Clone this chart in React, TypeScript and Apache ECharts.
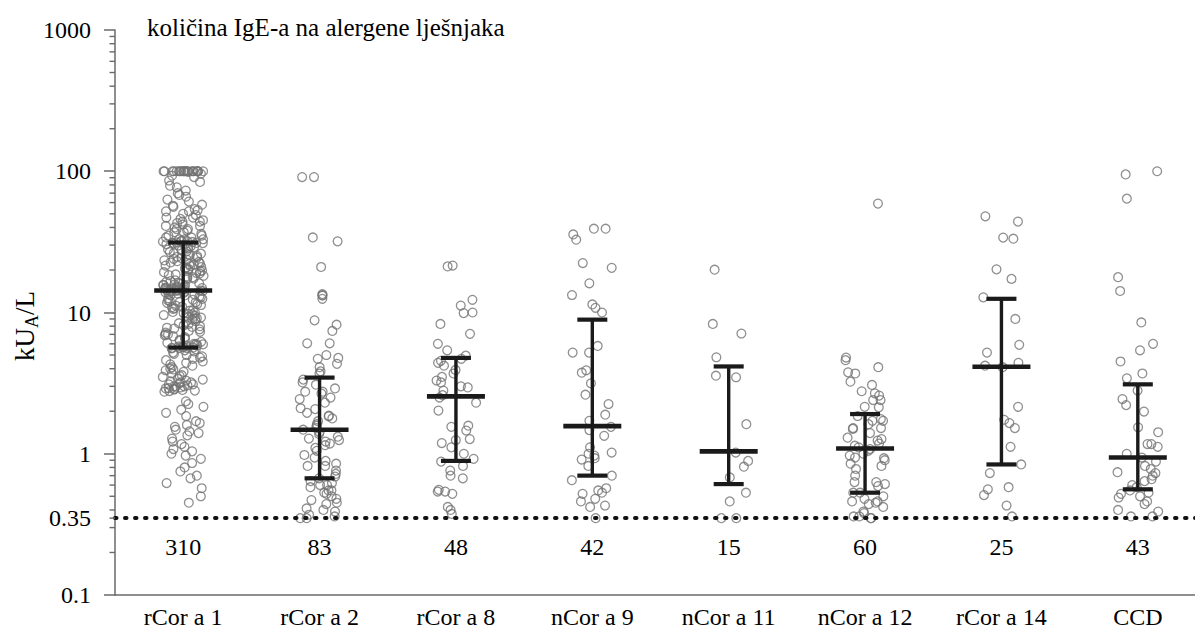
import React, { useEffect, useRef } from "react";
import * as echarts from "echarts";

// ---------- data ----------
const categories = ["rCor a 1", "rCor a 2", "rCor a 8", "nCor a 9", "nCor a 11", "nCor a 12", "rCor a 14", "CCD"];
const counts = [310, 83, 48, 42, 15, 60, 25, 43];
const medians = [14.3, 1.48, 2.55, 1.57, 1.04, 1.09, 4.13, 0.94];
const lowerQuartiles = [5.65, 0.67, 0.89, 0.7, 0.61, 0.53, 0.84, 0.56];
const upperQuartiles = [31.3, 3.46, 4.77, 8.9, 4.15, 1.91, 12.5, 3.1];
const cutoffValue = 0.35;
const extraTickLabels = ["0.35"];
const minorTickValues = [
  0.2, 0.3, 0.35, 0.4, 0.5, 0.6, 0.7, 0.8, 0.9,
  2, 3, 4, 5, 6, 7, 8, 9,
  20, 30, 40, 50, 60, 70, 80, 90,
  200, 300, 400, 500, 600, 700, 800, 900,
];

const rCorA1 = [
  100, 100, 100, 100, 100, 100, 100, 100, 100, 100, 100, 100, 100, 100, 100, 100, 100, 100, 100, 100, 100, 100,
  99, 96, 93, 91, 86, 84, 79, 77, 73, 70, 68, 66, 63, 61, 58, 57, 56,
  54, 53, 52, 52, 50, 49, 47, 47, 46, 45, 44, 44, 43, 42, 41, 41, 40, 39, 39, 38, 37, 37, 36, 35, 35, 34, 34, 33, 33, 33, 32, 32, 32, 31.8, 31.6, 31.4, 31.2, 31.1,
  31,
  30.8, 30.5, 30.2, 29.8, 29.4, 29.0, 28.7, 28.3, 27.9, 27.5, 27.1, 26.8, 26.4, 26.1,
  25.8, 25.5, 25.1, 24.8, 24.5, 24.3, 24.0, 23.7, 23.4, 23.1, 22.8, 22.6, 22.3, 22.0,
  21.8, 21.5, 21.3, 21.0, 20.8, 20.5, 20.3, 20.1, 19.8, 19.6, 19.3, 19.1, 18.9, 18.6, 18.4, 18.2, 18.0,
  17.8, 17.6, 17.4, 17.1, 16.9, 16.7, 16.5, 16.3, 16.1, 16.0, 15.8, 15.7, 15.6, 15.5, 15.3, 15.2, 15.0, 15.0,
  14.9, 14.9, 14.8, 14.7, 14.6, 14.6, 14.5, 14.4, 14.4, 14.3, 14.3, 14.2, 14.2, 14.2,
  14.2,
  14.1, 14.0, 13.9, 13.8, 13.6, 13.5, 13.4, 13.3, 13.2, 13.0, 12.8, 12.6, 12.5, 12.3, 12.2, 12.0,
  11.9, 11.8, 11.7, 11.5, 11.3, 11.2, 11.0, 10.9, 10.7, 10.6, 10.4, 10.3, 10.1, 10.0,
  9.9, 9.8, 9.7, 9.6, 9.5, 9.3, 9.2, 9.1, 9.0, 8.9, 8.7, 8.6, 8.4, 8.3, 8.1, 8.0,
  7.9, 7.8, 7.7, 7.6, 7.4, 7.3, 7.2, 7.0, 7.0, 6.9, 6.8, 6.7, 6.5, 6.4, 6.3, 6.2, 6.1, 6.0, 6.0,
  5.95, 5.9, 5.85, 5.8, 5.75, 5.7, 5.7, 5.65, 5.6, 5.6, 5.6,
  5.6,
  5.5, 5.4, 5.3, 5.2, 5.1, 5.0, 4.9, 4.8, 4.7, 4.6, 4.5, 4.4, 4.3, 4.2, 4.1, 4.0, 3.95, 3.9, 3.8, 3.7,
  3.6, 3.55, 3.5, 3.4, 3.35, 3.3, 3.25, 3.2, 3.2, 3.15, 3.1, 3.1, 3.05, 3.0, 3.0, 2.98, 2.95, 2.92, 2.9, 2.88,
  2.85, 2.83, 2.8, 2.78, 2.75,
  2.35, 2.25, 2.15, 2.05, 1.95, 1.85,
  1.7, 1.65, 1.6, 1.55, 1.48, 1.44, 1.4, 1.35,
  1.28, 1.22, 1.17, 1.12, 1.08, 1.04, 1.0, 0.97,
  0.92, 0.86, 0.8, 0.75, 0.7, 0.67,
  0.62, 0.57, 0.5, 0.45,
];

const rCorA2 = [
  91, 91, 34, 31.9, 21, 13.5, 13.2, 13.2, 12.5, 8.8, 8.2, 7.4, 6.05, 6.05, 5.0, 4.77, 4.7, 4.33, 4.1, 3.83,
  3.7, 3.35, 3.2, 3.08, 2.9, 2.75, 2.75, 2.67, 2.5, 2.44, 2.3, 2.1, 2.07, 1.95, 1.86, 1.84, 1.78, 1.7, 1.62, 1.58, 1.52,
  1.48,
  1.42, 1.38, 1.32, 1.28, 1.25, 1.22, 1.18, 1.15, 1.1, 1.05,
  0.98, 0.94, 0.89, 0.85, 0.82, 0.82, 0.76, 0.72, 0.69, 0.67,
  0.64, 0.62, 0.6, 0.6, 0.58, 0.55, 0.55, 0.53, 0.52, 0.5, 0.48, 0.47, 0.45, 0.44, 0.41, 0.4, 0.39, 0.37, 0.36, 0.35, 0.35,
];

const rCorA8 = [
  21.5, 21.2, 12.3, 11.2, 10.0, 9.9, 8.3, 7.06, 6.0, 5.4, 4.95, 4.7, 4.55, 4.4, 4.2, 3.92, 3.7, 3.5, 3.3, 3.2,
  3.0, 2.95, 2.8, 2.6, 2.5, 2.3, 2.02, 1.58, 1.55, 1.46, 1.27, 1.25, 1.19, 1.11, 1.0, 0.92, 0.88,
  0.82, 0.76, 0.7, 0.67, 0.555, 0.54, 0.54, 0.52, 0.42, 0.4, 0.375,
];

const nCorA9 = [
  39.2, 39.2, 35.7, 32.8, 22.4, 20.7, 16.1, 13.3, 11.4, 10.8, 10, 5.8, 5.2, 5.2, 3.9, 3.75, 3.15, 2.62, 2.25, 1.89,
  1.71, 1.55, 1.47, 1.34, 1.11, 1.02, 1.0, 0.97, 0.93, 0.91, 0.82, 0.7,
  0.65, 0.57, 0.55, 0.53, 0.52, 0.48, 0.46, 0.43, 0.42, 0.35,
];

const nCorA11 = [20.1, 8.3, 7.1, 4.82, 3.57, 3.48, 1.62, 1.02, 0.89, 0.81, 0.68, 0.53, 0.46, 0.35, 0.35];

const nCorA12 = [
  59, 4.8, 4.6, 4.1, 3.77, 3.7, 3.24, 3.07, 2.77, 2.68, 2.58, 2.4, 2.4, 2.15, 2.13, 1.85, 1.76, 1.71, 1.71, 1.62,
  1.52, 1.52, 1.5, 1.4, 1.3, 1.27, 1.24, 1.18, 1.14, 1.11,
  1.08, 1.05, 1.0, 0.97, 0.94, 0.93, 0.9, 0.85, 0.82, 0.78, 0.7, 0.63, 0.63, 0.61, 0.59, 0.53, 0.53, 0.5,
  0.48, 0.46, 0.46, 0.45, 0.44, 0.42, 0.39, 0.38, 0.36, 0.36, 0.35, 0.35,
];

const rCorA14 = [
  48, 44, 33.9, 33.3, 20.2, 17.3, 12.8, 9.0, 5.9, 5.2, 4.4, 4.2, 4.1, 2.15, 1.74, 1.65, 1.52, 1.12, 0.84, 0.73,
  0.58, 0.56, 0.51, 0.43, 0.36,
];

const ccd = [
  100, 95, 64, 17.8, 14.2, 8.5, 6.0, 5.4, 4.5, 3.7, 3.42, 2.8, 2.44, 2.21, 1.99, 1.54, 1.42, 1.17, 1.17, 1.12,
  1.0, 0.94, 0.88, 0.82, 0.78, 0.74, 0.73, 0.7, 0.66, 0.64, 0.6, 0.58, 0.55, 0.53, 0.52, 0.5, 0.49, 0.46, 0.44,
  0.4, 0.39, 0.36, 0.36,
];

const groupValues = [rCorA1, rCorA2, rCorA8, nCorA9, nCorA11, nCorA12, rCorA14, ccd];

// ---------- styling / layout constants ----------
const FONT = "Liberation Serif";
const TEXT = "#000000";
const AXIS = "#6a6a6a";
const COUNT_LABEL_LEVEL = 0.217; // vertical placement of the n labels on the log axis
const JITTER_HALF = 0.15;

// deterministic horizontal spread of the points inside their category band
const jitter = (i: number, ci: number) => {
  const s = Math.sin((i + 1) * 12.9898 + (ci + 1) * 78.233) * 43758.5453;
  return (s - Math.floor(s) - 0.5) * 2 * JITTER_HALF;
};

export default function App() {
  const ref = useRef<HTMLDivElement>(null);

  useEffect(() => {
    document.body.style.margin = "0";
    if (!ref.current) return;
    const chart = echarts.init(ref.current, undefined, { renderer: "svg" });

    const scatterSeries = groupValues.map((vals, ci) => ({
      type: "scatter",
      xAxisIndex: 1,
      yAxisIndex: 0,
      silent: true,
      z: 2,
      symbol: "circle",
      symbolSize: 8.8,
      itemStyle: { color: "rgba(0,0,0,0)", borderColor: "#737373", borderWidth: 1.3 },
      data: vals.map((v, i) => [ci + jitter(i, ci), v]),
    }));

    const option: any = {
      animation: false,
      backgroundColor: "#ffffff",
      textStyle: { fontFamily: FONT },
      title: {
        text: "količina IgE-a na alergene lješnjaka",
        left: 147,
        top: 15,
        padding: 0,
        textStyle: { fontFamily: FONT, fontSize: 25, fontWeight: "normal", color: TEXT },
      },
      grid: { left: 115, top: 30, width: 1091, height: 565, containLabel: false },
      xAxis: [
        {
          type: "category",
          data: categories,
          axisLine: { onZero: false, lineStyle: { color: AXIS, width: 1.5 } },
          axisTick: { show: false },
          axisLabel: { interval: 0, color: TEXT, fontSize: 24, fontFamily: FONT, margin: 10 },
          splitLine: { show: false },
        },
        { type: "value", min: -0.5, max: categories.length - 0.5, show: false },
      ],
      yAxis: {
        type: "log",
        logBase: 10,
        min: 0.1,
        max: 1000,
        axisLine: { show: true, onZero: false, lineStyle: { color: AXIS, width: 1.5 } },
        axisTick: { show: true, inside: false, length: 11, lineStyle: { color: AXIS, width: 1.5 } },
        minorTick: { show: false },
        axisLabel: {
          color: TEXT,
          fontSize: 24,
          fontFamily: FONT,
          margin: 24,
          formatter: (v: number) => String(+v.toPrecision(6)),
        },
        splitLine: { show: false },
      },
      graphic: [
        {
          type: "text",
          x: 25,
          y: 326,
          rotation: Math.PI / 2,
          style: {
            text: "{m|kU}{s|A}{m|/L}",
            align: "center",
            verticalAlign: "middle",
            fill: TEXT,
            rich: {
              m: { fontSize: 27, fontFamily: FONT, fill: TEXT },
              s: { fontSize: 18, fontFamily: FONT, fill: TEXT, padding: [13, 0, 0, 0] },
            },
          },
        },
      ],
      series: [
        ...scatterSeries,
        {
          type: "custom",
          xAxisIndex: 0,
          yAxisIndex: 0,
          z: 5,
          silent: true,
          clip: false,
          data: categories.map((_, i) => [i, lowerQuartiles[i], medians[i], upperQuartiles[i]]),
          encode: { x: 0, y: [1, 2, 3] },
          renderItem: (params: any, api: any) => {
            const x = api.value(0);
            const lo = api.coord([x, api.value(1)]);
            const md = api.coord([x, api.value(2)]);
            const hi = api.coord([x, api.value(3)]);
            const c = "#1a1a1a";
            return {
              type: "group",
              children: [
                { type: "line", shape: { x1: lo[0], y1: lo[1], x2: hi[0], y2: hi[1] }, style: { stroke: c, lineWidth: 3.4 } },
                { type: "line", shape: { x1: lo[0] - 15, y1: lo[1], x2: lo[0] + 15, y2: lo[1] }, style: { stroke: c, lineWidth: 4.2 } },
                { type: "line", shape: { x1: hi[0] - 15, y1: hi[1], x2: hi[0] + 15, y2: hi[1] }, style: { stroke: c, lineWidth: 4.2 } },
                { type: "line", shape: { x1: md[0] - 29, y1: md[1], x2: md[0] + 29, y2: md[1] }, style: { stroke: c, lineWidth: 4.6 } },
              ],
            };
          },
          markLine: {
            silent: true,
            symbol: "none",
            label: { show: false },
            lineStyle: { color: "#111", width: 4, type: [1.5, 8.5], cap: "round" },
            data: [{ yAxis: cutoffValue }],
          },
        },
        {
          type: "custom",
          xAxisIndex: 0,
          yAxisIndex: 0,
          z: 6,
          silent: true,
          clip: false,
          data: counts.map((c, i) => [i, c]),
          encode: { x: 0 },
          renderItem: (params: any, api: any) => {
            const p = api.coord([api.value(0), COUNT_LABEL_LEVEL]);
            return {
              type: "text",
              x: p[0],
              y: p[1],
              style: {
                text: String(api.value(1)),
                fontSize: 24,
                fontFamily: FONT,
                fill: TEXT,
                align: "center",
                verticalAlign: "middle",
              },
            };
          },
        },
        {
          type: "custom",
          xAxisIndex: 0,
          yAxisIndex: 0,
          z: 6,
          silent: true,
          clip: false,
          data: minorTickValues.map((v) => [0, v]),
          encode: { x: 0 },
          renderItem: (params: any, api: any) => {
            const v = api.value(1);
            const y = api.coord([0, v])[1];
            const x0 = params.coordSys.x;
            const children: any[] = [
              { type: "line", shape: { x1: x0 - 5.5, y1: y, x2: x0, y2: y }, style: { stroke: AXIS, lineWidth: 1.4 } },
            ];
            if (Math.abs(v - cutoffValue) < 1e-9) {
              children.push({
                type: "text",
                x: x0 - 24,
                y,
                style: { text: extraTickLabels[0], fontSize: 24, fontFamily: FONT, fill: TEXT, align: "right", verticalAlign: "middle" },
              });
            }
            return { type: "group", children };
          },
        },
      ],
    };

    chart.setOption(option);
    return () => chart.dispose();
  }, []);

  return (
    <div style={{ width: 1195, height: 630, overflow: "hidden", position: "relative", background: "#fff" }}>
      <div ref={ref} style={{ width: 1210, height: 630 }} />
    </div>
  );
}
